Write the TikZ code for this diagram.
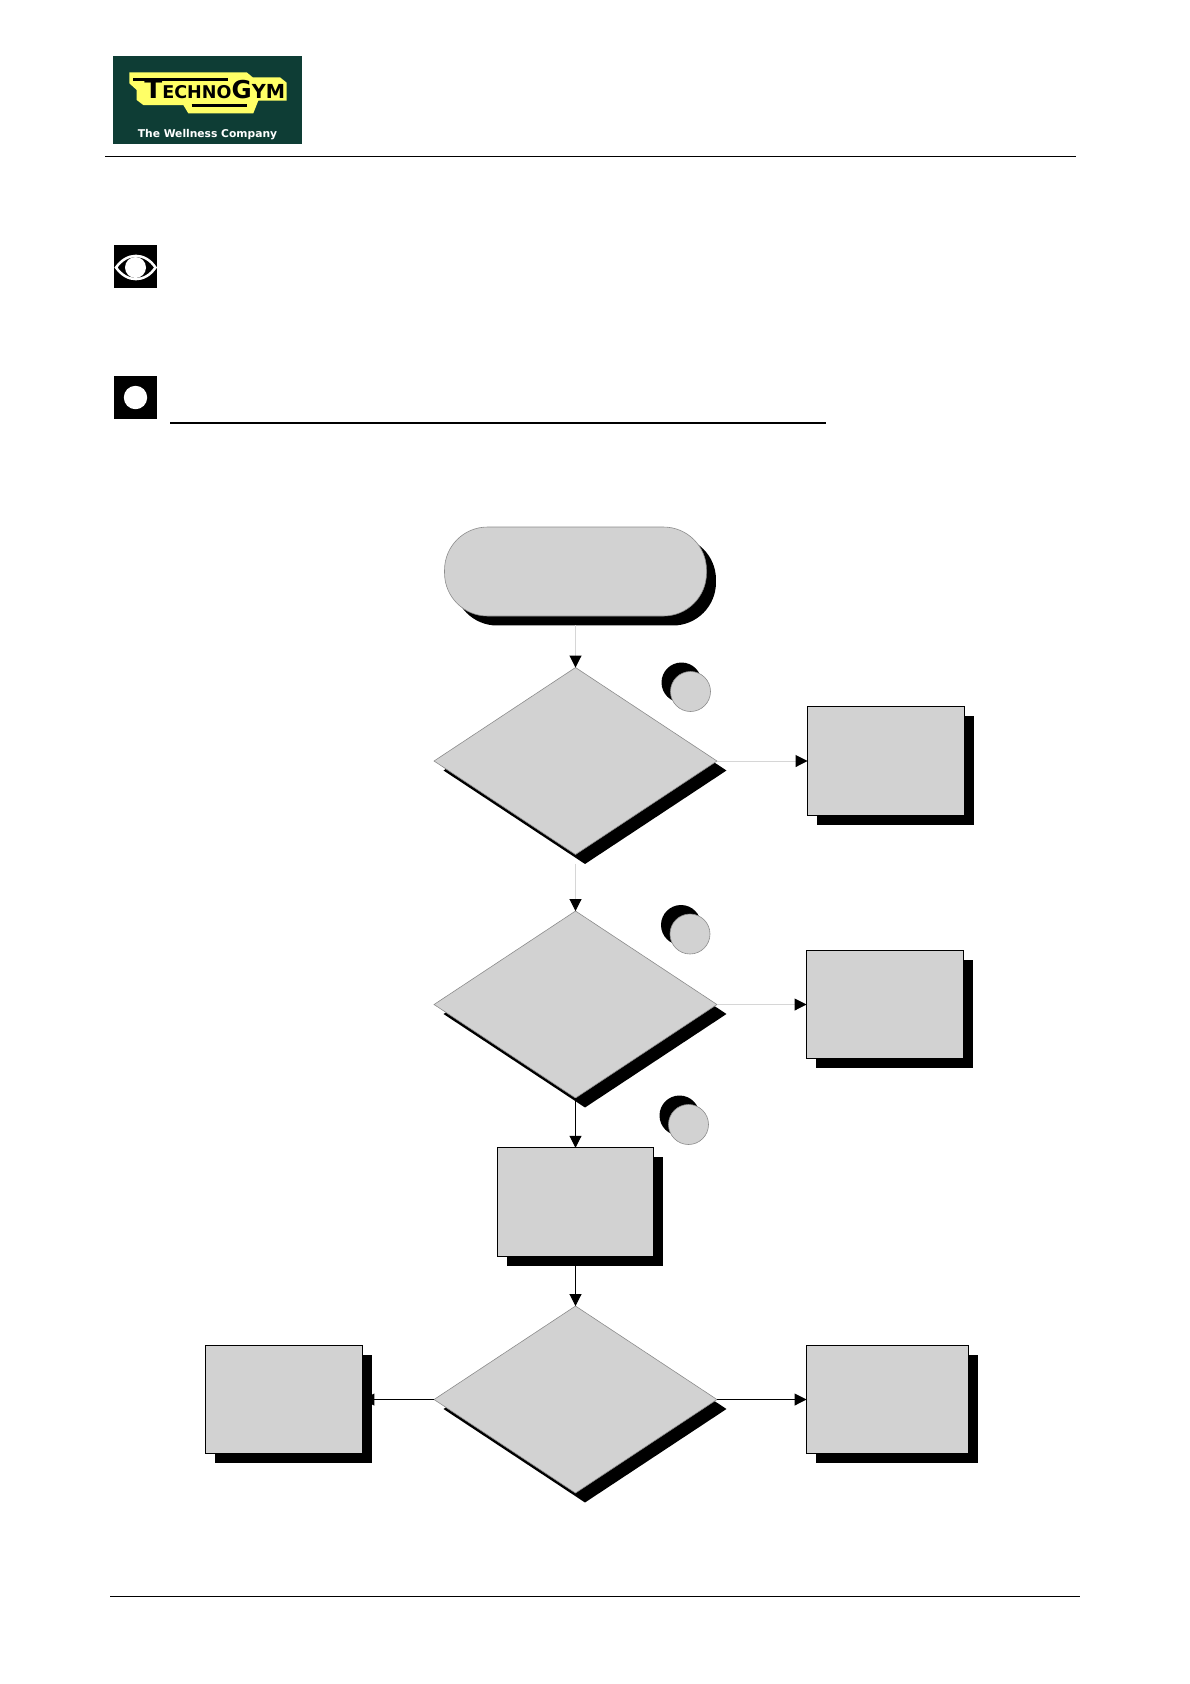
\documentclass[tikz,border=0pt]{standalone}
\usepackage{fontspec}
\newfontfamily\logofont{DejaVu Sans}
\usetikzlibrary{arrows.meta,shapes.geometric,shadows}
\definecolor{flowgray}{HTML}{D2D2D2}
\definecolor{edgegray}{HTML}{8C8C8C}
\definecolor{paleline}{HTML}{D6D6D6}
\definecolor{logogreen}{HTML}{0E3D35}
\definecolor{logoyellow}{HTML}{FFFF66}
\tikzset{
  hardshadow/.style={drop shadow={shadow xshift=0.19cm,shadow yshift=-0.19cm,fill=black,opacity=1}},
  flowbox/.style={rectangle,draw=black,line width=0.02cm,fill=flowgray,inner sep=0,outer sep=0,minimum height=2.17cm,hardshadow},
  decision/.style={diamond,draw=edgegray,line width=0.012cm,fill=flowgray,inner sep=0,outer sep=0,minimum width=5.66cm,minimum height=3.74cm,hardshadow},
  startpill/.style={rectangle,rounded corners=0.86cm,draw=edgegray,line width=0.012cm,fill=flowgray,inner sep=0,outer sep=0,minimum width=5.24cm,minimum height=1.78cm,hardshadow},
  badge/.style={circle,draw=edgegray,line width=0.012cm,fill=flowgray,inner sep=0,minimum size=0.8cm,drop shadow={shadow xshift=-0.18cm,shadow yshift=0.18cm,fill=black,opacity=1}},
  iconsq/.style={rectangle,fill=black,inner sep=0,minimum width=0.86cm,minimum height=0.86cm},
  blacklink/.style={line width=0.02cm,-{Triangle[length=0.24cm,width=0.24cm,color=black]}},
  palelink/.style={blacklink,draw=paleline}
}
\begin{document}
\begin{tikzpicture}[x=0.02cm,y=-0.02cm]
  \useasboundingbox (0,0) rectangle (1190,1684);

  \node[rectangle,fill=logogreen,inner sep=0,minimum width=3.78cm,minimum height=1.76cm] (logo) at (207.5,100) {};
  \fill[logoyellow] (129.3,72.3) -- (129.3,83.3) -- (136.7,90) -- (136.7,100) -- (143.3,105) -- (183.3,105)
    -- (188.3,113.3) -- (253.3,113.3) -- (258.3,100.7) -- (286.7,100.7) -- (286.7,82.7) -- (280,77.3)
    -- (252.7,77.3) -- (246.7,72.3) -- cycle;
  \draw[line width=0.05cm] (133,79.3) -- (228,79.3);
  \draw[line width=0.05cm] (191.7,105.5) -- (246.7,105.5);
  \node[anchor=base west,inner sep=0] (brand) at (144,98.5) {\logofont\bfseries\fontsize{15}{15}\selectfont T\fontsize{10}{10}\selectfont ECHNO\fontsize{14}{14}\selectfont G\fontsize{11}{11}\selectfont YM};
  \node[text=white,inner sep=0] (slogan) at (207.5,134.5) {\logofont\bfseries\fontsize{6.1}{8}\selectfont The Wellness Company};

  \coordinate (HL) at (105,156.5);
  \coordinate (HR) at (1076,156.5);
  \draw[line width=0.02cm] (HL) -- (HR);
  \coordinate (FL) at (110,1596);
  \coordinate (FR) at (1080,1596);
  \draw[line width=0.02cm] (FL) -- (FR);

  \node[iconsq] (eye) at (135.5,266.5) {};
  \draw[white,fill=black,line width=0.05cm] (116,267.5) .. controls (127,252) and (145,252) .. (155.5,267.5)
    .. controls (145,283) and (127,283) .. (116,267.5) -- cycle;
  \fill[white] (135.5,267.5) circle (10.5);

  \node[iconsq] (dot) at (135.5,397.5) {};
  \fill[white] (dot.center) circle (11.7);
  \coordinate (UL) at (170,423);
  \coordinate (UR) at (826,423);
  \draw[line width=0.04cm] (UL) -- (UR);

  \node[startpill] (start) at (575.5,571.5) {};
  \node[decision] (check1) at (575.5,761) {};
  \node[decision] (check2) at (575.5,1004.5) {};
  \node[decision] (check3) at (575.5,1399.5) {};
  \node[flowbox,minimum width=3.14cm] (fix1) at (886,761) {};
  \node[flowbox,minimum width=3.14cm] (fix2) at (885,1004.5) {};
  \node[flowbox,minimum width=3.14cm] (step) at (575.5,1202) {};
  \node[flowbox,minimum width=3.14cm] (left) at (284,1399.5) {};
  \node[flowbox,minimum width=3.24cm] (right) at (887.5,1399.5) {};
  \node[badge] (b1) at (690.5,691.5) {};
  \node[badge] (b2) at (690,934) {};
  \node[badge] (b3) at (688.5,1124.5) {};

  \draw[palelink,shorten <=0.19cm] (start) -- (check1);
  \draw[palelink,shorten <=0.19cm] (check1) -- (check2);
  \draw[palelink] (check1) -- (fix1);
  \draw[palelink] (check2) -- (fix2);
  \draw[blacklink] (check2) -- (step);
  \draw[blacklink] (step) -- (check3);
  \draw[blacklink] (check3) -- (left);
  \draw[blacklink] (check3) -- (right);
\end{tikzpicture}
\end{document}
